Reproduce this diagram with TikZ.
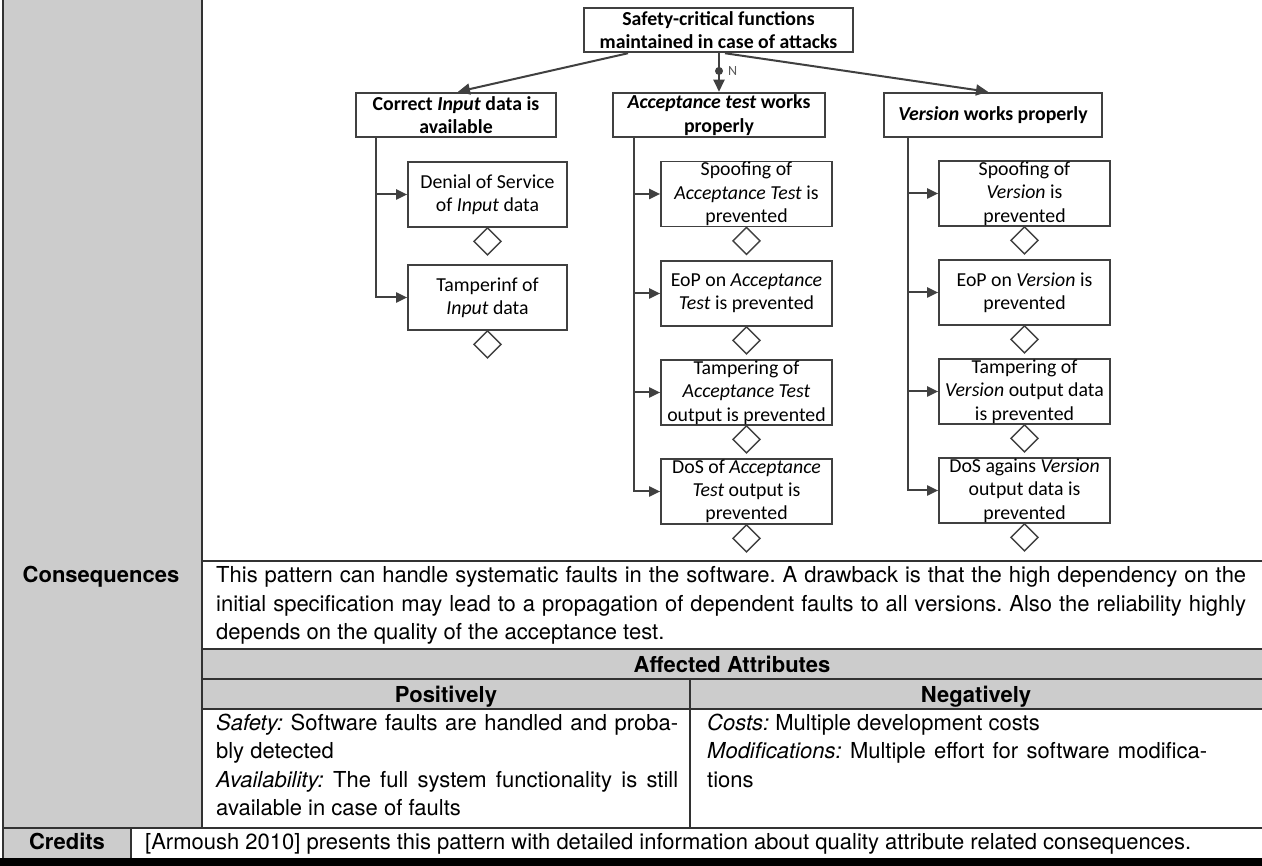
\documentclass[tikz,border=0pt]{standalone}
\usepackage{fontspec}
\setmainfont{TeX Gyre Heros}
\newfontfamily\diagfont{Carlito}
\usetikzlibrary{arrows.meta,shapes.geometric}

\definecolor{cellgray}{RGB}{204,204,204}
\definecolor{rulecol}{RGB}{50,50,50}
\definecolor{ink}{RGB}{64,64,64}
\definecolor{labelgray}{RGB}{90,90,90}

\begin{document}
\frenchspacing
\begin{tikzpicture}[x=1pt,y=-1pt,
  goal/.style={draw=ink, line width=2.5pt, fill=white, inner sep=0pt,
    align=center, minimum height=44pt,
    font={\diagfont\bfseries\fontsize{19.8}{23.5}\selectfont}},
  threat/.style={draw=ink, line width=1.7pt, fill=white, inner sep=0pt,
    align=center, minimum height=65pt,
    font={\diagfont\fontsize{19.8}{23.3}\selectfont}},
  gate/.style={diamond, draw=ink, line width=1.5pt, fill=white,
    inner sep=0pt, outer sep=0pt, minimum width=27pt, minimum height=27pt},
  conn/.style={draw=ink, line width=2pt,
    -{Triangle[length=12pt,width=11pt]}},
  branch/.style={draw=ink, line width=2pt,
    -{Triangle[length=11pt,width=10pt]}},
  dotmark/.style={circle, fill=ink, inner sep=0pt, minimum size=8pt},
  nlabel/.style={inner sep=0pt, text=labelgray,
    font={\diagfont\fontsize{14}{16}\selectfont}},
  tabtext/.style={inner sep=0pt, font={\fontsize{22}{28.5}\selectfont}},
  tabpar/.style={inner sep=0pt, align=justify,
    font={\fontsize{22}{28.5}\selectfont}},
  tabrule/.style={draw=rulecol, line width=1.1pt}
]
\useasboundingbox (0,0) rectangle (1262,866);
\fill[white] (0,0) rectangle (1262,866);

% ---------- table shading ----------
\fill[cellgray] (3,0) rectangle (202,828);
\fill[cellgray] (202,649) rectangle (1262,709);
\fill[cellgray] (3,828) rectangle (131,858);
\fill[black] (0,858) rectangle (1262,866);

% ---------- table rules ----------
\draw[tabrule] (3,0) -- (3,858);
\draw[tabrule] (202,0) -- (202,828);
\draw[tabrule] (202,561) -- (1262,561);
\draw[tabrule] (202,649) -- (1262,649);
\draw[tabrule] (202,679) -- (1262,679);
\draw[tabrule] (202,709) -- (1262,709);
\draw[tabrule] (690,679) -- (690,828);
\draw[tabrule] (3,828) -- (1262,828);
\draw[tabrule] (131,828) -- (131,858);

% ---------- goal tree ----------
\node[goal, minimum width=269pt] (top) at (718.5,30)
  {Safety-critical functions\\maintained in case of attacks};
\node[goal, minimum width=200pt] (inp) at (456,115)
  {Correct \textit{Input} data is\\available};
\node[goal, minimum width=212pt] (acc) at (719,115)
  {\textit{Acceptance test} works\\properly};
\node[goal, minimum width=218pt] (ver) at (993,115)
  {\textit{Version} works properly};

% threats below "Correct Input data is available"
\node[threat, minimum width=159pt] (i1) at (487.5,194.5)
  {Denial of Service\\of \textit{Input} data};
\node[threat, minimum width=159pt] (i2) at (487.5,297.5)
  {Tamperinf of\\\textit{Input} data};

% threats below "Acceptance test works properly"
\node[threat, minimum width=171pt] (a1) at (746.5,194)
  {Spoofing of\\\textit{Acceptance Test} is\\prevented};
\node[threat, minimum width=171pt] (a2) at (746.5,293.5)
  {EoP on \textit{Acceptance}\\\textit{Test} is prevented};
\node[threat, minimum width=171pt] (a3) at (746.5,392.5)
  {Tampering of\\\textit{Acceptance Test}\\output is prevented};
\node[threat, minimum width=171pt] (a4) at (746.5,491.5)
  {DoS of \textit{Acceptance}\\\textit{Test} output is\\prevented};

% threats below "Version works properly"
\node[threat, minimum width=171pt] (v1) at (1024.5,193.5)
  {Spoofing of\\\textit{Version} is\\prevented};
\node[threat, minimum width=171pt] (v2) at (1024.5,292.5)
  {EoP on \textit{Version} is\\prevented};
\node[threat, minimum width=171pt] (v3) at (1024.5,391.5)
  {Tampering of\\\textit{Version} output data\\is prevented};
\node[threat, minimum width=171pt] (v4) at (1024.5,490.5)
  {DoS agains \textit{Version}\\output data is\\prevented};

% undeveloped-goal diamonds
\foreach \b in {i1,i2,a1,a2,a3,a4,v1,v2,v3,v4}
  \node[gate, anchor=north] (\b-g) at (\b.south) {};

% decomposition from the top goal
\draw[conn] ([xshift=-90.5pt]top.south) -- ([xshift=2pt]inp.north);
\draw[conn] (top.south -| acc.north) -- node[pos=0.46, dotmark] (ndot) {} (acc.north);
\node[nlabel, anchor=west] (nlab) at ([xshift=4pt]ndot.east) {N};
\draw[conn] ([xshift=6.5pt]top.south) -- ([xshift=-5pt]ver.north);

% branches to the threats
\foreach \c in {i1,i2}
  \draw[branch] ([xshift=-80pt]inp.south) |- (\c.west);
\foreach \c in {a1,a2,a3,a4}
  \draw[branch] ([xshift=-85pt]acc.south) |- (\c.west);
\foreach \c in {v1,v2,v3,v4}
  \draw[branch] ([xshift=-85pt]ver.south) |- (\c.west);

% ---------- table text ----------
\node[tabtext, anchor=base] (conslabel) at (101,583) {\bfseries Consequences};
\node[tabpar, text width=1030pt, anchor=base west] (constext) at (216,583)
  {This pattern can handle systematic faults in the software. A drawback is that the high dependency on the\linebreak
   initial specification may lead to a propagation of dependent faults to all versions. Also the reliability highly\linebreak
   depends on the quality of the acceptance test.};
\node[tabtext, anchor=base] (aahead) at (732,672) {\bfseries Affected Attributes};
\node[tabtext, anchor=base] (poshead) at (446,702) {\bfseries Positively};
\node[tabtext, anchor=base] (neghead) at (976,702) {\bfseries Negatively};
\node[tabpar, text width=462pt, anchor=base west] (postext) at (216,730)
  {\textit{Safety:} Software faults are handled and proba-\linebreak
   bly detected\newline
   \textit{Availability:} The full system functionality is still\linebreak
   available in case of faults};
\node[tabpar, text width=500pt, anchor=base west] (negtext) at (707,730)
  {\textit{Costs:} Multiple development costs\newline
   \textit{Modifications:} Multiple effort for software modifica-\linebreak
   tions};
\node[tabtext, anchor=base] (credlabel) at (67,849) {\bfseries Credits};
\node[tabtext, anchor=base west] (credtext) at (145,849)
  {[Armoush 2010] presents this pattern with detailed information about quality attribute related consequences.};
\end{tikzpicture}
\end{document}
